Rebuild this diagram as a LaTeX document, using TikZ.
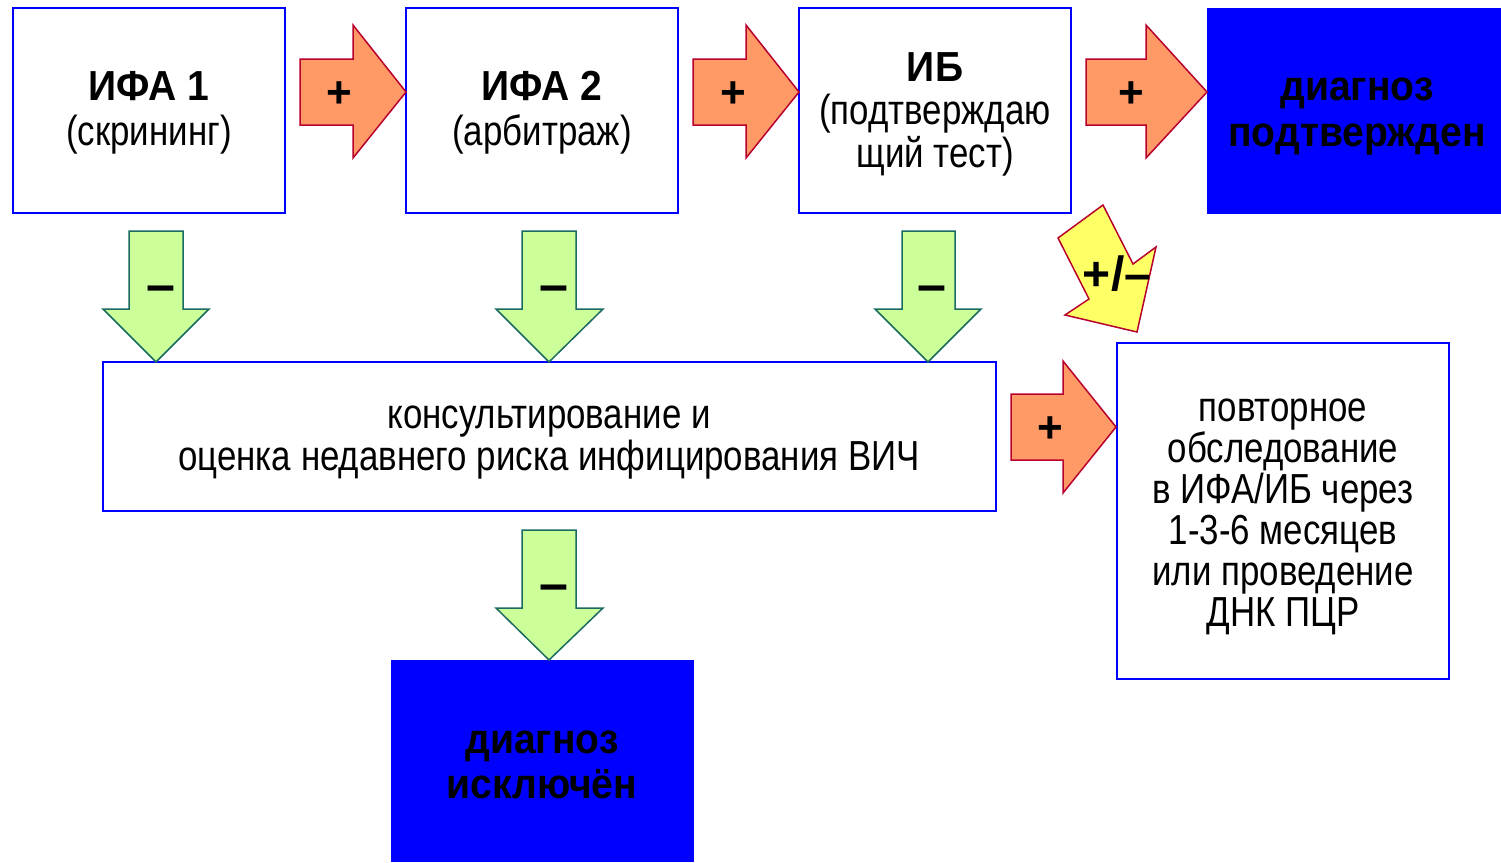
\documentclass[tikz,border=0pt]{standalone}
\usepackage{fontspec}
\setmainfont{Liberation Sans}[FakeStretch=0.83]
\newfontfamily\signfont{Liberation Sans}
\newfontfamily\boldnarrow{Liberation Sans}[FakeStretch=0.93]
\definecolor{boxblue}{HTML}{0000FF}
\definecolor{orfill}{HTML}{FF9966}
\definecolor{redline}{HTML}{B8002E}
\definecolor{grfill}{HTML}{CCFF99}
\definecolor{grline}{HTML}{1A6B60}
\definecolor{yefill}{HTML}{FFFF66}
\newcommand{\bt}[1]{{\boldnarrow\bfseries #1}}
\begin{document}
\begin{tikzpicture}[x=1pt,y=-1pt,
  wbox/.style={draw=boxblue, line width=2pt, fill=white, inner sep=0pt},
  bbox/.style={draw=none, fill=boxblue, inner sep=0pt},
  txt/.style={font=\fontsize{42}{42}\selectfont, align=center, inner sep=0pt},
  plusarrow/.style={fill=orfill, draw=redline, line width=1.5pt, line join=miter},
  minusarrow/.style={fill=grfill, draw=grline, line width=1.5pt, line join=miter},
  pmarrow/.style={fill=yefill, draw=redline, line width=1.5pt, line join=miter},
  sign/.style={font=\signfont\bfseries\fontsize{44}{44}\selectfont, inner sep=0pt},
  msign/.style={font=\signfont\bfseries\fontsize{52}{52}\selectfont, inner sep=0pt}]
\useasboundingbox (0,0) rectangle (1501,862);

% boxes
\node[wbox, minimum width=272pt, minimum height=205pt] (ifa1) at (149,110.5) {};
\node[wbox, minimum width=272pt, minimum height=205pt] (ifa2) at (542,110.5) {};
\node[wbox, minimum width=272pt, minimum height=205pt] (ib) at (935,110.5) {};
\node[bbox, minimum width=294pt, minimum height=206pt] (conf) at (1354,110.5) {};
\node[wbox, minimum width=893pt, minimum height=149pt] (cons) at (549.5,436.5) {};
\node[wbox, minimum width=332pt, minimum height=336pt] (repeat) at (1283,511) {};
\node[bbox, minimum width=303pt, minimum height=202pt] (excl) at (542.5,761) {};

% texts
\node[txt, font=\fontsize{42}{45}\selectfont] (ifa1t) at (149,113) {\bt{ИФА 1}\\(скрининг)};
\node[txt, font=\fontsize{42}{45}\selectfont] (ifa2t) at (542,113) {\bt{ИФА 2}\\(арбитраж)};
\node[txt, font=\fontsize{42}{43}\selectfont] (ibt) at (935,114) {\bt{ИБ}\\(подтверждаю\\щий тест)};
\node[txt, font=\boldnarrow\bfseries\fontsize{42}{46}\selectfont] (conft) at (1357,117) {диагноз\\подтвержден};
\node[txt] (const) at (549,443) {консультирование и\\оценка недавнего риска инфицирования ВИЧ};
\node[txt, font=\fontsize{42}{41}\selectfont] (repeatt) at (1283,517) {повторное\\обследование\\в ИФА/ИБ через\\1-3-6 месяцев\\или проведение\\ДНК ПЦР};
\node[txt, font=\boldnarrow\bfseries\fontsize{42}{45}\selectfont] (forexcl) at (542,765) {диагноз\\исключён};

% plus arrows (right)
\draw[plusarrow] (300,59) -- (353,59) -- (353,25) -- (406,92) -- (353,158) -- (353,125) -- (300,125) -- cycle;
\draw[plusarrow] (693,59) -- (746,59) -- (746,25) -- (799,92) -- (746,158) -- (746,125) -- (693,125) -- cycle;
\draw[plusarrow] (1086,59) -- (1146,59) -- (1146,25) -- (1207,92) -- (1146,158) -- (1146,125) -- (1086,125) -- cycle;
\draw[plusarrow] (1011,394) -- (1063,394) -- (1063,361) -- (1116,427) -- (1063,493) -- (1063,460) -- (1011,460) -- cycle;
\node[sign] (p1) at (339,95) {+};
\node[sign] (p2) at (733,95) {+};
\node[sign] (p3) at (1131,95) {+};
\node[sign] (p4) at (1050,430) {+};

% minus arrows (down)
\draw[minusarrow] (129,231) -- (183,231) -- (183,309) -- (209,309) -- (156,362) -- (103,309) -- (129,309) -- cycle;
\draw[minusarrow] (522,231) -- (576,231) -- (576,309) -- (603,309) -- (549,362) -- (496,309) -- (522,309) -- cycle;
\draw[minusarrow] (902,231) -- (955,231) -- (955,309) -- (981,309) -- (928,362) -- (875,309) -- (902,309) -- cycle;
\draw[minusarrow] (522,530) -- (576,530) -- (576,608) -- (603,608) -- (549,660) -- (496,608) -- (522,608) -- cycle;
\node[msign] (m1) at (161,294) {–};
\node[msign] (m2) at (554,294) {–};
\node[msign] (m3) at (932,294) {–};
\node[msign] (m4) at (554,593) {–};

% plus/minus arrow
\draw[pmarrow] (1103,205) -- (1133,264) -- (1156,247) -- (1137,332) -- (1065,315) -- (1089,299) -- (1058,238) -- cycle;
\node[sign, font=\signfont\bfseries\fontsize{48}{48}\selectfont] (pm) at (1117,274) {+/–};
\end{tikzpicture}
\end{document}
